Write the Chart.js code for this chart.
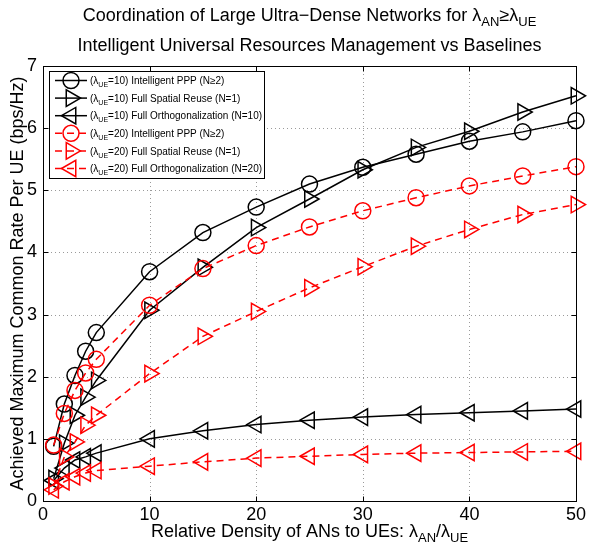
<!DOCTYPE html>
<html>
<head>
<meta charset="utf-8">
<script src="https://cdn.jsdelivr.net/npm/chart.js@4/dist/chart.umd.min.js"></script>
<style>
  html, body { margin: 0; padding: 0; background: #fff; }
</style>
</head>
<body>
<canvas id="rateChart" width="589" height="548"></canvas>
<script>
// relative density of ANs to UEs (lambda_AN / lambda_UE)
const density = [1, 2, 3, 4, 5, 10, 15, 20, 25, 30, 35, 40, 45, 50];

// achieved max common rate per UE (bps/Hz), lambda_UE = 10
const pppUE10   = [0.88, 1.56, 2.02, 2.41, 2.71, 3.69, 4.32, 4.73, 5.10, 5.37, 5.58, 5.79, 5.94, 6.12];
const reuseUE10 = [0.36, 0.93, 1.38, 1.67, 1.94, 3.07, 3.76, 4.40, 4.86, 5.33, 5.69, 5.95, 6.26, 6.52];
const orthoUE10 = [0.33, 0.53, 0.66, 0.71, 0.77, 1.00, 1.13, 1.23, 1.30, 1.35, 1.39, 1.42, 1.45, 1.48];

// lambda_UE = 20
const pppUE20   = [0.90, 1.41, 1.78, 2.06, 2.28, 3.15, 3.74, 4.11, 4.41, 4.67, 4.88, 5.07, 5.23, 5.38];
const reuseUE20 = [0.24, 0.71, 0.95, 1.22, 1.38, 2.05, 2.65, 3.05, 3.43, 3.77, 4.10, 4.37, 4.61, 4.77];
const orthoUE20 = [0.18, 0.31, 0.39, 0.45, 0.49, 0.56, 0.63, 0.69, 0.72, 0.75, 0.77, 0.78, 0.79, 0.80];

const xTicks = [0, 10, 20, 30, 40, 50];
const yTicks = [0, 1, 2, 3, 4, 5, 6, 7];

const FONT = '"Liberation Sans", Arial, Helvetica, sans-serif';

// legend text: plain strings, {sub} for subscripts
const series = [
  { data: pppUE10,   color: '#000', dash: [], style: 'circle', rot: 0, r: 8,
    label: ['(\u03bb', { sub: 'UE' }, '=10) Intelligent PPP (N\u22652)'] },
  { data: reuseUE10, color: '#000', dash: [], style: 'triangle', rot: 90, r: 9.5,
    label: ['(\u03bb', { sub: 'UE' }, '=10) Full Spatial Reuse (N=1)'] },
  { data: orthoUE10, color: '#000', dash: [], style: 'triangle', rot: 270, r: 9.5,
    label: ['(\u03bb', { sub: 'UE' }, '=10) Full Orthogonalization (N=10)'] },
  { data: pppUE20,   color: '#f00', dash: [7, 5], style: 'circle', rot: 0, r: 8,
    label: ['(\u03bb', { sub: 'UE' }, '=20) Intelligent PPP (N\u22652)'] },
  { data: reuseUE20, color: '#f00', dash: [7, 5], style: 'triangle', rot: 90, r: 9.5,
    label: ['(\u03bb', { sub: 'UE' }, '=20) Full Spatial Reuse (N=1)'] },
  { data: orthoUE20, color: '#f00', dash: [7, 5], style: 'triangle', rot: 270, r: 9.5,
    label: ['(\u03bb', { sub: 'UE' }, '=20) Full Orthogonalization (N=20)'] },
];

// draw text with subscripts, returns nothing
function richText(ctx, parts, x, y, size, align) {
  const subSize = Math.round(size * 0.72);
  const seg = parts.map(p => typeof p === 'string' ? { t: p, sub: false } : { t: p.sub, sub: true });
  let w = 0;
  seg.forEach(s => {
    ctx.font = (s.sub ? subSize : size) + 'px ' + FONT;
    w += ctx.measureText(s.t).width;
  });
  let cx = align === 'center' ? x - w / 2 : x;
  ctx.textAlign = 'left';
  ctx.textBaseline = 'alphabetic';
  seg.forEach(s => {
    ctx.font = (s.sub ? subSize : size) + 'px ' + FONT;
    ctx.fillText(s.t, cx, s.sub ? y + size * 0.3 : y);
    cx += ctx.measureText(s.t).width;
  });
}

function seg(ctx, x1, y1, x2, y2) {
  ctx.beginPath();
  ctx.moveTo(x1, y1);
  ctx.lineTo(x2, y2);
  ctx.stroke();
}

// matlab-ish frame: dotted grid, box, inward ticks, titles and legend
const frame = {
  id: 'frame',
  beforeDatasetsDraw(chart) {
    const { ctx, chartArea: a, scales: { x, y } } = chart;
    ctx.save();
    ctx.strokeStyle = '#9a9a9a';
    ctx.lineWidth = 1;
    ctx.setLineDash([1, 3]);
    xTicks.slice(1, -1).forEach(v => {
      const px = Math.round(x.getPixelForValue(v)) + 0.5;
      seg(ctx, px, a.top, px, a.bottom);
    });
    yTicks.slice(1, -1).forEach(v => {
      const py = Math.round(y.getPixelForValue(v)) + 0.5;
      seg(ctx, a.left, py, a.right, py);
    });
    ctx.restore();
  },
  afterDraw(chart) {
    const { ctx, chartArea: a, scales: { x, y } } = chart;
    ctx.save();

    // axes box + ticks
    ctx.strokeStyle = '#000';
    ctx.lineWidth = 1;
    const L = Math.round(a.left) + 0.5, R = Math.round(a.right) + 0.5;
    const T = Math.round(a.top) + 0.5, B = Math.round(a.bottom) + 0.5;
    ctx.strokeRect(L, T, R - L, B - T);
    xTicks.forEach(v => {
      const px = Math.round(x.getPixelForValue(v)) + 0.5;
      seg(ctx, px, B, px, B - 5);
      seg(ctx, px, T, px, T + 5);
    });
    yTicks.forEach(v => {
      const py = Math.round(y.getPixelForValue(v)) + 0.5;
      seg(ctx, L, py, L + 5, py);
      seg(ctx, R, py, R - 5, py);
    });

    // titles
    ctx.fillStyle = '#000';
    const cx = (a.left + a.right) / 2;
    richText(ctx, ['Coordination of Large Ultra\u2212Dense Networks for \u03bb', { sub: 'AN' }, '\u2265\u03bb', { sub: 'UE' }],
      cx, 21, 18, 'center');
    richText(ctx, ['Intelligent Universal Resources Management vs Baselines'], cx, 51, 18, 'center');
    richText(ctx, ['Relative Density of ANs to UEs: \u03bb', { sub: 'AN' }, '/\u03bb', { sub: 'UE' }],
      cx, 537, 18, 'center');
    ctx.save();
    ctx.translate(23, (a.top + a.bottom) / 2);
    ctx.rotate(-Math.PI / 2);
    richText(ctx, ['Achieved Maximum Common Rate Per UE (bps/Hz)'], 0, 0, 18, 'center');
    ctx.restore();

    // legend
    const lx = 49.5, ly = 71.5, lw = 215, lh = 107;
    ctx.fillStyle = '#fff';
    ctx.fillRect(lx, ly, lw, lh);
    ctx.strokeStyle = '#000';
    ctx.strokeRect(lx, ly, lw, lh);
    series.forEach((s, i) => {
      const ey = 80.5 + i * 17.6;
      ctx.strokeStyle = s.color;
      ctx.lineWidth = 1.5;
      ctx.setLineDash(s.dash);
      seg(ctx, 55, ey, 87, ey);
      ctx.setLineDash([]);
      ctx.fillStyle = 'rgba(0,0,0,0)';
      Chart.helpers.drawPoint(ctx, { pointStyle: s.style, rotation: s.rot, radius: s.r, borderWidth: 1.5 }, 71, ey);
      ctx.fillStyle = '#000';
      richText(ctx, s.label, 90, ey + 3.6, 10, 'left');
    });
    ctx.restore();
  }
};

const datasets = series.map((s, i) => ({
  data: density.map((d, k) => ({ x: d, y: s.data[k] })),
  borderColor: s.color,
  borderWidth: 1.5,
  borderDash: s.dash,
  pointStyle: s.style,
  pointRotation: s.rot,
  pointRadius: s.r,
  pointBorderWidth: 1.5,
  pointBorderColor: s.color,
  pointBackgroundColor: 'rgba(0,0,0,0)',
  tension: 0,
  fill: false,
  clip: false,
  order: series.length - i,
}));

const tickFont = { family: FONT, size: 18 };

new Chart('rateChart', {
  type: 'line',
  data: { datasets },
  options: {
    responsive: false,
    animation: false,
    events: [],
    layout: { padding: { left: 0, top: 66, right: 13, bottom: 0 } },
    plugins: {
      legend: { display: false },
      title: { display: false },
      tooltip: { enabled: false },
    },
    scales: {
      x: {
        type: 'linear',
        min: 0,
        max: 50,
        afterBuildTicks: s => { s.ticks = xTicks.map(v => ({ value: v })); },
        afterFit: s => { s.height = 47; },
        grid: { display: false, drawTicks: false },
        border: { display: false },
        ticks: { color: '#000', font: tickFont, padding: 3, maxRotation: 0, autoSkip: false },
      },
      y: {
        type: 'linear',
        min: 0,
        max: 7,
        afterBuildTicks: s => { s.ticks = yTicks.map(v => ({ value: v })); },
        afterFit: s => { s.width = 43; },
        grid: { display: false, drawTicks: false },
        border: { display: false },
        ticks: { color: '#000', font: tickFont, padding: 6, autoSkip: false },
      },
    },
  },
  plugins: [frame],
});
</script>
</body>
</html>
